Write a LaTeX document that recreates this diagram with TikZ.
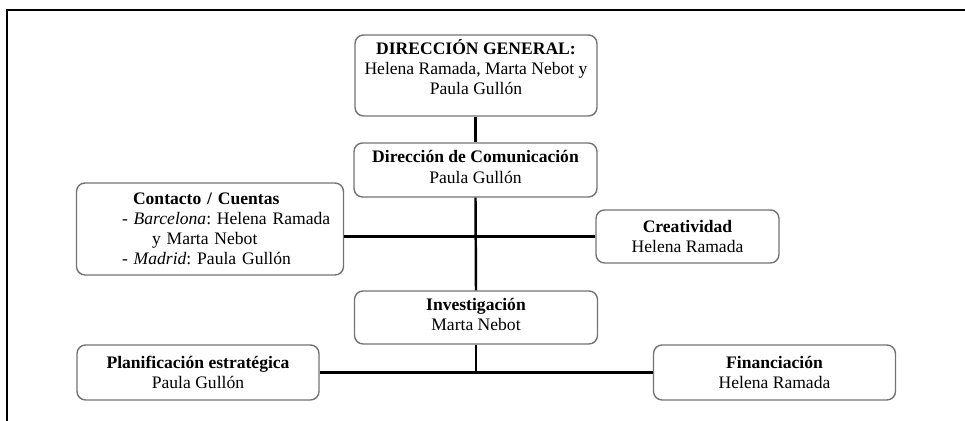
\documentclass[tikz,border=0pt]{standalone}
\usepackage{fontspec}
\setmainfont{Liberation Serif}
\frenchspacing

\begin{document}
\begin{tikzpicture}[x=0.02cm, y=-0.02cm,
  font=\fontsize{10}{11.5}\selectfont,
  box/.style={draw=black!55, line width=.8pt, rounded corners=.17cm, align=center, inner sep=2pt},
  link/.style={draw, line width=1.4pt}]

      \useasboundingbox (0,0) rectangle (965,421);
      \draw[line width=1.2pt] (7,421) -- (7,10) -- (965,10);

      \node[box, minimum width=4.84cm, minimum height=1.62cm, text depth=10pt] (dirgeneral) at (476,75.5)
      {\textbf{DIRECCIÓN GENERAL:}\\ Helena Ramada, Marta Nebot y\\ Paula Gullón};
      \node[box, minimum width=4.86cm, minimum height=1.08cm, text depth=3.5pt] (dircom) at (475.5,170)
      {\textbf{Dirección de Comunicación}\\ Paula Gullón};
      \node[box, text width=5.2cm, align=left, minimum height=1.84cm] (contacto) at (210,229)
      {\hspace*{1.06cm}\textbf{Contacto / Cuentas}\\
        \hspace*{0.84cm}- \textit{Barcelona}: Helena Ramada\\
        \hspace*{1.44cm}y Marta Nebot\\
        \hspace*{0.84cm}- \textit{Madrid}: Paula Gullón};
      \node[box, minimum width=3.66cm, minimum height=1.06cm] (creatividad) at (687.5,236.5)
      {\textbf{Creatividad}\\ Helena Ramada};
      \node[box, minimum width=4.86cm, minimum height=1.06cm, text depth=3.5pt] (investigacion) at (476,317.5)
      {\textbf{Investigación}\\ Marta Nebot};
      \node[box, minimum width=4.84cm, minimum height=1.1cm] (planif) at (198,372.5)
      {\textbf{Planificación estratégica}\\ Paula Gullón};
      \node[box, minimum width=4.84cm, minimum height=1.1cm] (financ) at (774.5,372.5)
      {\textbf{Financiación}\\ Helena Ramada};

      \draw[link] (dircom.north) -- (dircom.north |- dirgeneral.south);
      \draw[link] (dircom.south) -- (investigacion.north);
      \draw[link] (creatividad.west) -- (creatividad.west -| contacto.east);
      \draw[link] (planif.east) -- (financ.west);
      \draw[link] (investigacion.south) -- (investigacion.south |- planif.east);
    \end{tikzpicture}
\end{document}
